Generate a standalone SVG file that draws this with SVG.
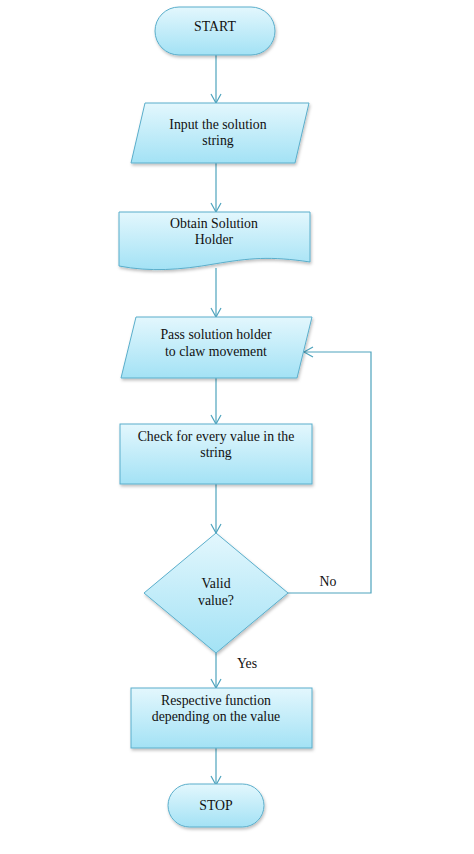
<svg xmlns="http://www.w3.org/2000/svg" width="474" height="854" viewBox="0 0 474 854">
<style>
.n{fill:url(#g);stroke:#5aaecb;stroke-width:1;filter:url(#sh)}
.t{font-family:"Liberation Serif",serif;font-size:13.8px;fill:#111;text-anchor:middle}
.c{fill:none;stroke:#4ea3bd;stroke-width:1.2}
</style>
<defs>
<linearGradient id="g" x1="0" y1="0" x2="0" y2="1">
<stop offset="0" stop-color="#e3f7fd"/>
<stop offset="1" stop-color="#a3e2f5"/>
</linearGradient>
<filter id="sh" x="-10%" y="-10%" width="130%" height="140%">
<feDropShadow dx="1" dy="2" stdDeviation="1.5" flood-color="#000" flood-opacity="0.25"/>
</filter>
<marker id="a" markerWidth="12" markerHeight="12" refX="10" refY="6" orient="auto" markerUnits="userSpaceOnUse">
<polyline points="1,1 10,6 1,11" fill="none" stroke="#4ea3bd" stroke-width="1.2"/>
</marker>
</defs>
<rect width="474" height="854" fill="#fff"/>
<g id="connectors">
<line class="c" x1="216" y1="55" x2="216" y2="103" marker-end="url(#a)"/>
<line class="c" x1="216" y1="163" x2="216" y2="212" marker-end="url(#a)"/>
<line class="c" x1="216" y1="268" x2="216" y2="317" marker-end="url(#a)"/>
<line class="c" x1="216" y1="378" x2="216" y2="424" marker-end="url(#a)"/>
<line class="c" x1="216" y1="484" x2="216" y2="533" marker-end="url(#a)"/>
<line class="c" x1="216" y1="653" x2="216" y2="688" marker-end="url(#a)"/>
<line class="c" x1="216" y1="748" x2="216" y2="785" marker-end="url(#a)"/>
<polyline class="c" points="288,593 371,593 371,352 304,352" marker-end="url(#a)"/>
<text class="t" x="328" y="586">No</text>
<text class="t" x="247" y="668">Yes</text>
</g>
<g id="start">
<rect class="n" x="155" y="7" width="120" height="48" rx="24"/>
<text class="t" x="215" y="31">START</text>
</g>
<g id="input">
<polygon class="n" points="145,103 309,103 295,163 131,163"/>
<text class="t" x="218" y="129">Input the solution</text>
<text class="t" x="218" y="145">string</text>
</g>
<g id="obtain">
<path class="n" d="M119,212 H310 V262 C270,256 250,258 214,264 C180,270 150,272 119,266 Z"/>
<text class="t" x="214" y="228">Obtain Solution</text>
<text class="t" x="214" y="244">Holder</text>
</g>
<g id="pass">
<polygon class="n" points="136,317 312,317 297,378 121,378"/>
<text class="t" x="216" y="339">Pass solution holder</text>
<text class="t" x="216" y="356">to claw movement</text>
</g>
<g id="check">
<rect class="n" x="120" y="424" width="192" height="60"/>
<text class="t" x="216" y="441">Check for every value in the</text>
<text class="t" x="216" y="457">string</text>
</g>
<g id="valid">
<polygon class="n" points="216,533 288,593 216,653 144,593"/>
<text class="t" x="216" y="588">Valid</text>
<text class="t" x="216" y="605">value?</text>
</g>
<g id="respective">
<rect class="n" x="131" y="688" width="181" height="60"/>
<text class="t" x="216" y="705">Respective function</text>
<text class="t" x="216" y="721">depending on the value</text>
</g>
<g id="stop">
<rect class="n" x="168" y="784" width="96" height="43" rx="21.5"/>
<text class="t" x="216" y="810">STOP</text>
</g>
</svg>
